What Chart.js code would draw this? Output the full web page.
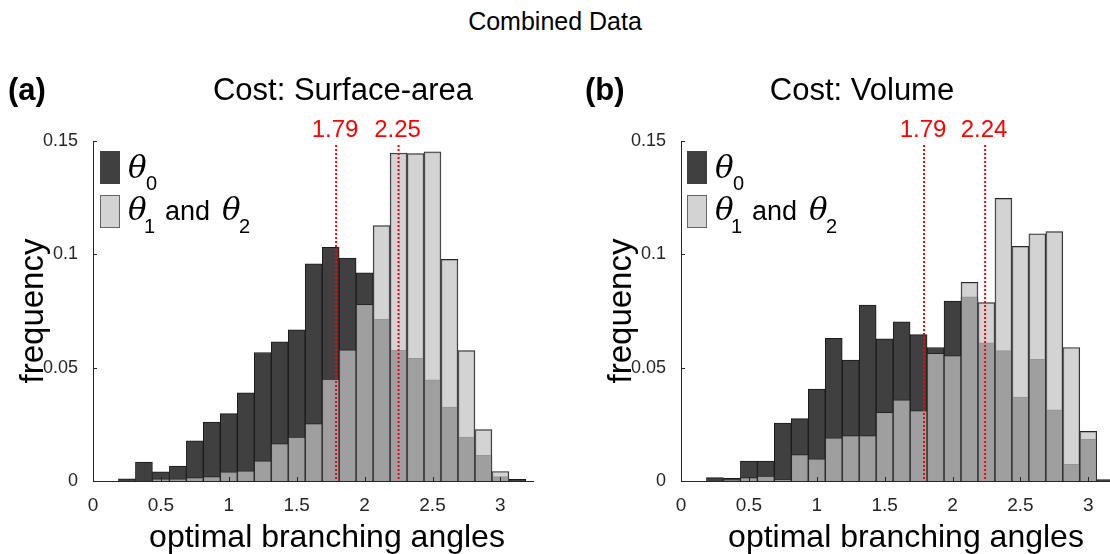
<!DOCTYPE html>
<html>
<head>
<meta charset="utf-8">
<script src="https://cdn.jsdelivr.net/npm/chart.js@4.4.0/dist/chart.umd.min.js"></script>
<style>
  body { margin: 0; background: #fff; width: 1110px; height: 554px; position: relative; overflow: hidden;
         font-family: "Liberation Sans", Arial, sans-serif; }
  #title { position: absolute; left: 0; top: 7px; width: 1110px; text-align: center; font-size: 25px; color: #000; }
  .pane { position: absolute; top: 0; width: 555px; height: 554px; }
</style>
</head>
<body>
<div id="title">Combined Data</div>
<div class="pane" style="left:0"><canvas id="chartA" width="555" height="554"></canvas></div>
<div class="pane" style="left:555px"><canvas id="chartB" width="555" height="554"></canvas></div>
<script>
// bin centres (rad)
const binCenters = [0.25, 0.375, 0.5, 0.625, 0.75, 0.875, 1, 1.125, 1.25, 1.375, 1.5, 1.625,
                    1.75, 1.875, 2, 2.125, 2.25, 2.375, 2.5, 2.625, 2.75, 2.875, 3, 3.125];

// (a) cost: surface-area
const surfTheta0  = [0.0010, 0.0083, 0.0040, 0.0066, 0.0177, 0.0260, 0.0297, 0.0389, 0.0567, 0.0614, 0.0667, 0.0958,
                     0.1031, 0.0984, 0.0918, 0.0713, 0.0577, 0.0541, 0.0446, 0.0326, 0.0194, 0.0113, 0.0019, 0.0007];
const surfTheta12 = [0, 0, 0.0010, 0.0010, 0.0015, 0.0020, 0.0040, 0.0045, 0.0089, 0.0165, 0.0194, 0.0253,
                     0.0450, 0.0579, 0.0779, 0.1127, 0.1447, 0.1444, 0.1452, 0.0978, 0.0575, 0.0227, 0.0042, 0];
const surfMarks = [1.79, 2.25];

// (b) cost: volume
const volTheta0  = [0.0015, 0.0012, 0.0088, 0.0088, 0.0256, 0.0275, 0.0406, 0.0629, 0.0534, 0.0776, 0.0627, 0.0702,
                    0.0646, 0.0589, 0.0794, 0.0813, 0.0610, 0.0575, 0.0370, 0.0537, 0.0314, 0.0073, 0.0184, 0.0006];
const volTheta12 = [0, 0.0004, 0.0015, 0.0022, 0.0006, 0.0117, 0.0098, 0.0190, 0.0200, 0.0200, 0.0303, 0.0358,
                    0.0311, 0.0563, 0.0553, 0.0877, 0.0787, 0.1247, 0.1035, 0.1091, 0.1100, 0.0589, 0.0219, 0];
const volMarks = [1.79, 2.24];

const xTicks = [0, 0.5, 1, 1.5, 2, 2.5, 3];
const yTicks = [0, 0.05, 0.1, 0.15];

const FONT = '"Liberation Sans", Arial, sans-serif';
const DARK = '#404040';
const LIGHT = 'rgba(195,195,195,0.73)';
const AXIS = '#262626';

// annotations: inward ticks, red marker lines, legend, labels
const extras = {
  id: 'extras',
  afterDraw(chart, args, o) {
    const {ctx, chartArea: ca, scales: {x, y}} = chart;
    ctx.save();

    // inward tick marks
    ctx.strokeStyle = AXIS; ctx.lineWidth = 1;
    xTicks.forEach(v => {
      const px = Math.round(x.getPixelForValue(v)) + 0.5;
      ctx.beginPath(); ctx.moveTo(px, ca.bottom); ctx.lineTo(px, ca.bottom - 4); ctx.stroke();
    });
    yTicks.forEach(v => {
      const py = Math.round(y.getPixelForValue(v)) + 0.5;
      ctx.beginPath(); ctx.moveTo(ca.left, py); ctx.lineTo(ca.left + 4, py); ctx.stroke();
    });

    // red dotted lines + values
    ctx.strokeStyle = '#ff0000'; ctx.fillStyle = '#ff0000';
    ctx.lineWidth = 2; ctx.setLineDash([2, 2]);
    ctx.font = '24px ' + FONT; ctx.textAlign = 'center'; ctx.textBaseline = 'alphabetic';
    o.marks.forEach(v => {
      const px = x.getPixelForValue(v);
      ctx.beginPath(); ctx.moveTo(px, ca.top + 4); ctx.lineTo(px, ca.bottom); ctx.stroke();
      ctx.fillText(v.toFixed(2), px - 1, ca.top - 4);
    });
    ctx.setLineDash([]);

    // legend
    const lx = ca.left + o.legendDx;
    ctx.fillStyle = DARK; ctx.fillRect(lx, ca.top + 10, 20, 33);
    ctx.fillStyle = LIGHT; ctx.fillRect(lx, ca.top + 54, 20, 33);
    ctx.strokeStyle = '#666'; ctx.lineWidth = 1;
    ctx.strokeRect(lx + 0.5, ca.top + 54.5, 19, 32);
    ctx.fillStyle = '#000'; ctx.textAlign = 'left';
    const th = 'italic 31px "DejaVu Serif", serif';
    const sub = '20px ' + FONT;
    ctx.font = th; ctx.fillText('θ', lx + 28, ca.top + 37);
    ctx.font = sub; ctx.fillText('0', lx + 46, ca.top + 49);
    ctx.font = th; ctx.fillText('θ', lx + 28, ca.top + 79);
    ctx.font = sub; ctx.fillText('1', lx + 44, ca.top + 92);
    ctx.font = '27px ' + FONT; ctx.fillText('and', lx + 65, ca.top + 79);
    ctx.font = th; ctx.fillText('θ', lx + 122, ca.top + 79);
    ctx.font = sub; ctx.fillText('2', lx + 139, ca.top + 92);

    // panel label + subtitle
    ctx.textBaseline = 'alphabetic';
    ctx.font = 'bold 31px ' + FONT; ctx.textAlign = 'left';
    ctx.fillText(o.panel, o.panelX, 100);
    ctx.font = '31px ' + FONT; ctx.textAlign = 'center';
    ctx.fillText(o.subtitle, o.subX, 100);

    // axis titles
    ctx.font = '32px ' + FONT;
    ctx.fillText('optimal branching angles', o.xTitleX, 547);
    ctx.save();
    ctx.translate(ca.left - 59, 311); ctx.rotate(-Math.PI / 2);
    ctx.textBaseline = 'middle';
    ctx.font = '33px ' + FONT;
    ctx.fillText('frequency', 0, 0);
    ctx.restore();

    ctx.restore();
  }
};

function makeChart(id, theta0, theta12, marks, cfg) {
  const ctx = document.getElementById(id).getContext('2d');
  return new Chart(ctx, {
    type: 'bar',
    data: {
      datasets: [
        { label: 'θ1 and θ2', data: binCenters.map((c, i) => ({x: c, y: theta12[i]})),
          backgroundColor: LIGHT, borderColor: '#262626', borderWidth: 1, order: 0,
          grouped: false, barPercentage: 1, categoryPercentage: 1 },
        { label: 'θ0', data: binCenters.map((c, i) => ({x: c, y: theta0[i]})),
          backgroundColor: DARK, borderColor: '#1a1a1a', borderWidth: 1, order: 1,
          grouped: false, barPercentage: 1, categoryPercentage: 1 }
      ]
    },
    options: {
      responsive: false,
      animation: false,
      layout: { padding: { top: 141, bottom: 0, left: 0, right: cfg.rightPad } },
      plugins: {
        legend: { display: false },
        tooltip: { enabled: false },
        extras: { marks: marks, legendDx: cfg.legendDx, panel: cfg.panel, panelX: cfg.panelX,
                  subtitle: cfg.subtitle, subX: cfg.subX, xTitleX: cfg.xTitleX }
      },
      scales: {
        x: {
          type: 'linear', min: 0, max: cfg.xMax, offset: false,
          grid: { display: false },
          border: { display: true, color: AXIS, width: 1 },
          afterBuildTicks: s => { s.ticks = xTicks.map(v => ({value: v})); },
          afterFit: s => { s.height = 73; },
          ticks: { color: AXIS, font: { family: FONT, size: 19 }, padding: 5, maxRotation: 0, autoSkip: false,
                   callback: v => String(v) }
        },
        y: {
          min: 0, max: 0.15,
          grid: { display: false },
          border: { display: true, color: AXIS, width: 1 },
          afterBuildTicks: s => { s.ticks = yTicks.map(v => ({value: v})); },
          afterFit: s => { s.width = cfg.yWidth; },
          ticks: { color: AXIS, font: { family: FONT, size: 18 }, padding: 7,
                   callback: v => String(v) }
        }
      }
    },
    plugins: [extras]
  });
}

makeChart('chartA', surfTheta0, surfTheta12, surfMarks,
  { xMax: 3.24, yWidth: 93, rightPad: 22, legendDx: 7, panel: '(a)', panelX: 8,
    subtitle: 'Cost: Surface-area', subX: 343, xTitleX: 327 });
makeChart('chartB', volTheta0, volTheta12, volMarks,
  { xMax: 3.16, yWidth: 126, rightPad: 0, legendDx: 6, panel: '(b)', panelX: 30,
    subtitle: 'Cost: Volume', subX: 307, xTitleX: 351 });
</script>
</body>
</html>
